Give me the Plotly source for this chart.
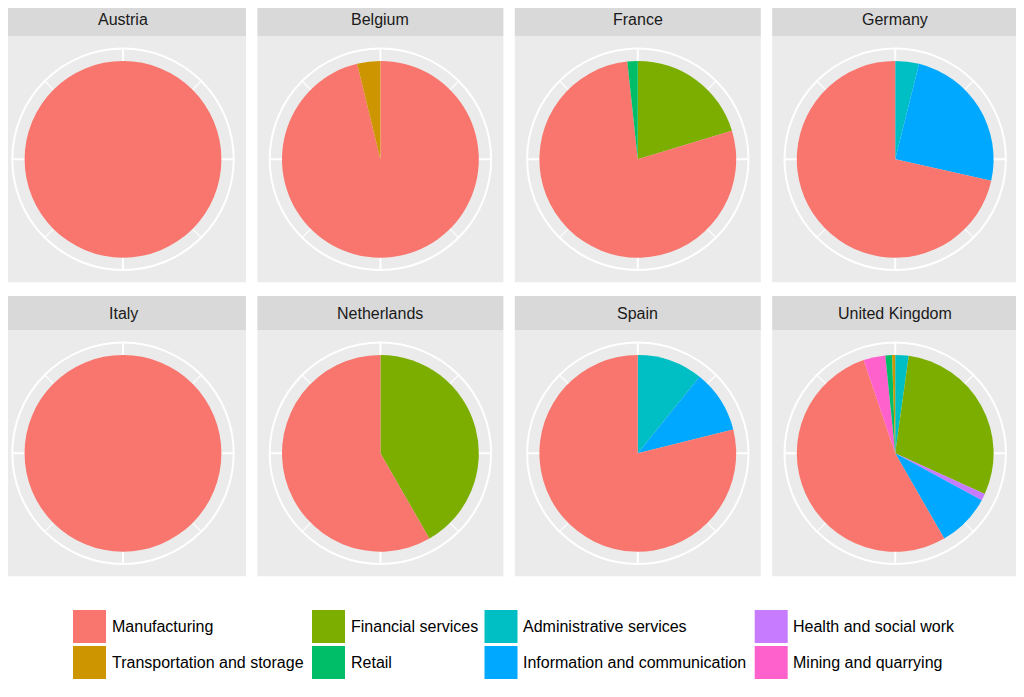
import math
import plotly.graph_objects as go

# ---------------- data ----------------
countries = ["Austria", "Belgium", "France", "Germany",
             "Italy", "Netherlands", "Spain", "United Kingdom"]

sectors = ["Manufacturing", "Transportation and storage", "Financial services", "Retail",
           "Administrative services", "Information and communication",
           "Health and social work", "Mining and quarrying"]

sector_colors = ["#F8766D", "#CD9600", "#7CAE00", "#00BE67",
                 "#00BFC4", "#00A9FF", "#C77CFF", "#FF61CC"]

# share (%) per country, same order as `countries`
manufacturing  = [100.0, 96.2, 78.0, 71.5, 100.0, 58.3, 78.9, 53.1]
transportation = [0.0,   3.8,  0.0,  0.0,  0.0,   0.0,  0.0,  0.5]
financial      = [0.0,   0.0,  20.3, 0.0,  0.0,   41.7, 0.0,  29.6]
retail         = [0.0,   0.0,  1.7,  0.0,  0.0,   0.0,  0.0,  1.1]
administrative = [0.0,   0.0,  0.0,  3.9,  0.0,   0.0,  10.8, 2.2]
information    = [0.0,   0.0,  0.0,  24.6, 0.0,   0.0,  10.3, 8.8]
health         = [0.0,   0.0,  0.0,  0.0,  0.0,   0.0,  0.0,  1.1]
mining         = [0.0,   0.0,  0.0,  0.0,  0.0,   0.0,  0.0,  3.6]

series = [manufacturing, transportation, financial, retail,
          administrative, information, health, mining]

# ---------------- layout geometry (page pixels) ----------------
OFF = 8                      # default HTML body margin around the plot div
W, H = 1024 - OFF, 697 - OFF
col_x = [0.0, 257.4, 514.8, 772.2]
panel_top = [36.3, 330.3]
strip_top = [2.0, 296.0]
PW = 246.0
R_PIE = 0.4 * PW
R_CIRC = 0.45 * PW

def px(x):
    return (x - OFF) / W

def py(y):
    return 1 - (y - OFF) / H

color_of = dict(zip(sectors, sector_colors))

fig = go.Figure()
shapes = []
annotations = []

for i, country in enumerate(countries):
    r, c = divmod(i, 4)
    x0 = col_x[c]
    top = panel_top[r]
    cx, cy = x0 + PW / 2, top + PW / 2

    # panel background
    shapes.append(dict(type="rect", xref="paper", yref="paper", layer="below",
                       x0=px(x0), x1=px(x0 + PW), y0=py(top + PW), y1=py(top),
                       fillcolor="#EBEBEB", line=dict(width=0)))
    # strip
    shapes.append(dict(type="rect", xref="paper", yref="paper", layer="below",
                       x0=px(x0), x1=px(x0 + PW), y0=py(top), y1=py(strip_top[r]),
                       fillcolor="#D9D9D9", line=dict(width=0)))
    annotations.append(dict(x=px(cx), y=py((strip_top[r] + top) / 2),
                            xref="paper", yref="paper", text=country, showarrow=False,
                            xanchor="center", yanchor="middle",
                            font=dict(size=16, color="#1A1A1A")))
    # outer circle
    shapes.append(dict(type="circle", xref="paper", yref="paper", layer="below",
                       x0=px(cx - R_CIRC), x1=px(cx + R_CIRC),
                       y0=py(cy + R_CIRC), y1=py(cy - R_CIRC),
                       line=dict(color="white", width=2), fillcolor="rgba(0,0,0,0)"))
    # spokes
    for k in range(8):
        ang = math.radians(45 * k)
        ex, ey = cx + R_CIRC * math.sin(ang), cy - R_CIRC * math.cos(ang)
        shapes.append(dict(type="line", xref="paper", yref="paper", layer="below",
                           x0=px(cx), y0=py(cy), x1=px(ex), y1=py(ey),
                           line=dict(color="white", width=2 if k % 2 == 0 else 1.2)))

    # slices in alphabetical order, clockwise from 12 o'clock
    pairs = [(s, series[j][i]) for j, s in enumerate(sectors) if series[j][i] > 0]
    pairs.sort(key=lambda p: p[0])
    labels = [p[0] for p in pairs]
    values = [p[1] for p in pairs]
    fig.add_trace(go.Pie(
        labels=labels, values=values, sort=False, direction="clockwise", rotation=0,
        marker=dict(colors=[color_of[l] for l in labels], line=dict(width=0)),
        textinfo="none", showlegend=False, name=country,
        domain=dict(x=[px(cx - R_PIE), px(cx + R_PIE)],
                    y=[py(cy + R_PIE), py(cy - R_PIE)]),
    ))

# ---------------- legend (drawn manually, column-major 2 rows) ----------------
leg_key_x = [73.0, 312.0, 484.5, 754.7]
leg_key_y = [610.0, 646.0]
KEY = 33.0
for j, (s, col) in enumerate(zip(sectors, sector_colors)):
    c, r = divmod(j, 2)
    kx, ky = leg_key_x[c], leg_key_y[r]
    shapes.append(dict(type="rect", xref="paper", yref="paper", layer="above",
                       x0=px(kx), x1=px(kx + KEY), y0=py(ky + KEY), y1=py(ky),
                       fillcolor=col, line=dict(width=0)))
    annotations.append(dict(x=px(kx + KEY + 3.5), y=py(ky + KEY / 2),
                            xref="paper", yref="paper", text=s, showarrow=False,
                            xanchor="left", yanchor="middle",
                            font=dict(size=16, color="black")))

fig.update_layout(
    width=W, height=H, autosize=False,
    margin=dict(l=0, r=0, t=0, b=0),
    paper_bgcolor="white", plot_bgcolor="white",
    font=dict(family="Liberation Sans, Arial, Helvetica, sans-serif", size=16),
    shapes=shapes, annotations=annotations, showlegend=False,
)

fig.write_html("out.html")
